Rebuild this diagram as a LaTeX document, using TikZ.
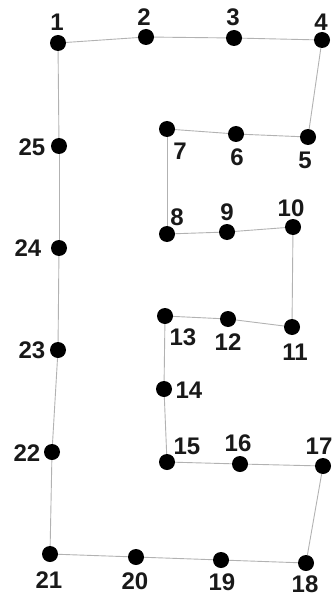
\documentclass[tikz,border=0pt]{standalone}
\usepackage{fontspec}
\setmainfont{Liberation Sans}
\begin{document}
\begin{tikzpicture}[x=1pt,y=-1pt,
  dot/.style={circle,fill=black,inner sep=0pt,minimum size=16pt},
  lbl/.style={font=\fontsize{24}{24}\selectfont\bfseries,inner sep=0pt,text=black!90},
  edge/.style={draw=black!30,line width=0.9pt}]
\useasboundingbox (0,0) rectangle (334,596);
\foreach \i/\x/\y in {1/58/43,2/146/37,3/234/38,4/322/40,5/308/137,6/236/134,7/167/129,8/167/234,9/227/232,10/293/227,11/292/327,12/228/319,13/165/316,14/164/389,15/167/462,16/240/464,17/323/466,18/306/563,19/221/560,20/136/557,21/50/554,22/52/452,23/58/350,24/59/248,25/59/146}
  \node[dot] (n\i) at (\x,\y) {};
\foreach \a/\b in {1/2,2/3,3/4,4/5,5/6,6/7,7/8,8/9,9/10,10/11,11/12,12/13,13/14,14/15,15/16,16/17,17/18,18/19,19/20,20/21,21/22,22/23,23/24,24/25,25/1}
  \draw[edge] (n\a) -- (n\b);
\foreach \i/\x/\y in {1/57/22,2/144/17,3/233/17,4/321/22,5/305/160,6/237/157,7/180/151,8/177/217,9/227/212,10/291/208,11/295/352,12/228/342,13/183/337,14/189/390,15/187/446,16/238/443,17/319/446,18/305/584,19/222/582,20/135/581,21/49/580,22/27/453,23/32/350,24/28/248,25/32/147}
  \node[lbl] (l\i) at (\x,\y) {\i};
\end{tikzpicture}
\end{document}
